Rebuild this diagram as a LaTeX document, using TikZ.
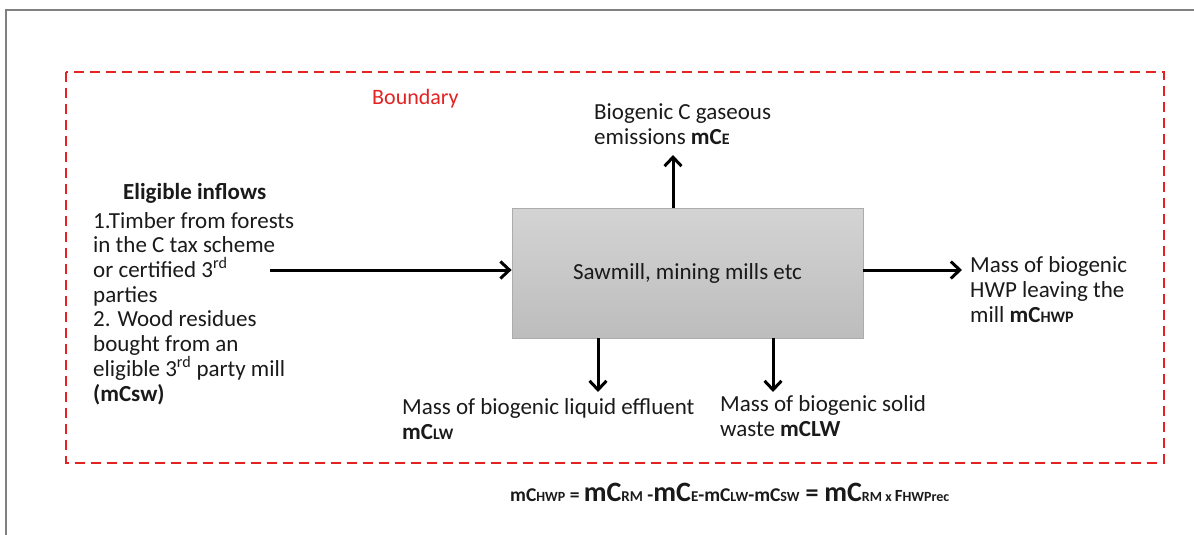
\documentclass[tikz,border=0pt]{standalone}
\usepackage{fontspec}
\setmainfont{Carlito}
\usetikzlibrary{arrows.meta}
\definecolor{bred}{HTML}{E32322}
\definecolor{txt}{HTML}{1A1A1A}
\newcommand{\smc}[1]{{\fontsize{16}{16}\selectfont #1}}
\newcommand{\fsz}[2]{{\fontsize{#1}{#1}\selectfont #2}}
\begin{document}
\begin{tikzpicture}[x=1pt,y=-1pt,
  lbl/.style={font=\fontsize{23}{24.7}\selectfont, text=txt, align=left, inner sep=0pt, anchor=base west},
  flow/.style={line width=3pt, -{Straight Barb[length=9pt,width=17pt,line width=3pt]}},
  procbox/.style={draw=gray!65, line width=0.8pt, top color=black!17, bottom color=black!26, minimum width=351pt, minimum height=130pt, inner sep=0pt, font=\fontsize{23}{24}\selectfont, text=txt}
]
\useasboundingbox (0,0) rectangle (1194,535);
\draw[gray, line width=1.5pt] (6,535) -- (6,10) -- (1194,10);
\draw[bred, line width=2.5pt, dash pattern=on 10pt off 6pt] (66,72) rectangle (1164,463);
\node[lbl, text=bred, font=\fontsize{22}{24}\selectfont] (bnd) at (372,104) {Boundary};

\node[procbox] (box) at (687.5,273) {Sawmill, mining mills etc};

\node[lbl, font=\bfseries\fontsize{23}{24.7}\selectfont] (elig) at (123,199) {Eligible inflows};
% base anchor of a multi-line node is its last line
\node[lbl] (inf) at (93,401) {1.Timber from forests\\in the C tax scheme\\or certified 3\textsuperscript{rd}\\parties\\2. Wood residues\\bought from an\\eligible 3\textsuperscript{rd} party mill\\\textbf{(mCsw)}};

\node[lbl] (emi) at (594,144) {Biogenic C gaseous\\emissions \textbf{mC\smc{E}}};
\node[lbl] (hwp) at (970,322) {Mass of biogenic\\HWP leaving the\\mill \textbf{mC\smc{HWP}}};
\node[lbl] (liq) at (402,439) {Mass of biogenic liquid effluent\\\textbf{mC\smc{LW}}};
\node[lbl] (sol) at (720,436) {Mass of biogenic solid\\waste \textbf{mCLW}};

\coordinate (inS) at (270,270);
\coordinate (upE) at (673,155);
\coordinate (rtE) at (962,270);
\coordinate (d1E) at (598,392);
\coordinate (d2E) at (773,392);

\draw[flow] (inS) -- (inS -| box.west);
\draw[flow] (upE |- box.north) -- (upE);
\draw[flow] (rtE -| box.east) -- (rtE);
\draw[flow] (d1E |- box.south) -- (d1E);
\draw[flow] (d2E |- box.south) -- (d2E);

\node[inner sep=0pt, anchor=base west, text=txt, font=\bfseries] (eq) at (510,501)
 {\fsz{19.5}{mC}\fsz{14}{HWP}\fsz{19.5}{ = }\fsz{28}{mC}\fsz{15}{RM}\fsz{19.5}{ -}\fsz{28}{mC}\fsz{15}{E}\fsz{19.5}{-mC}\fsz{14}{LW}\fsz{19.5}{-mC}\fsz{14}{SW}\fsz{26}{ = }\fsz{28}{mC}\fsz{14}{RM x }\fsz{17}{F}\fsz{14}{HWPrec}};
\end{tikzpicture}
\end{document}
